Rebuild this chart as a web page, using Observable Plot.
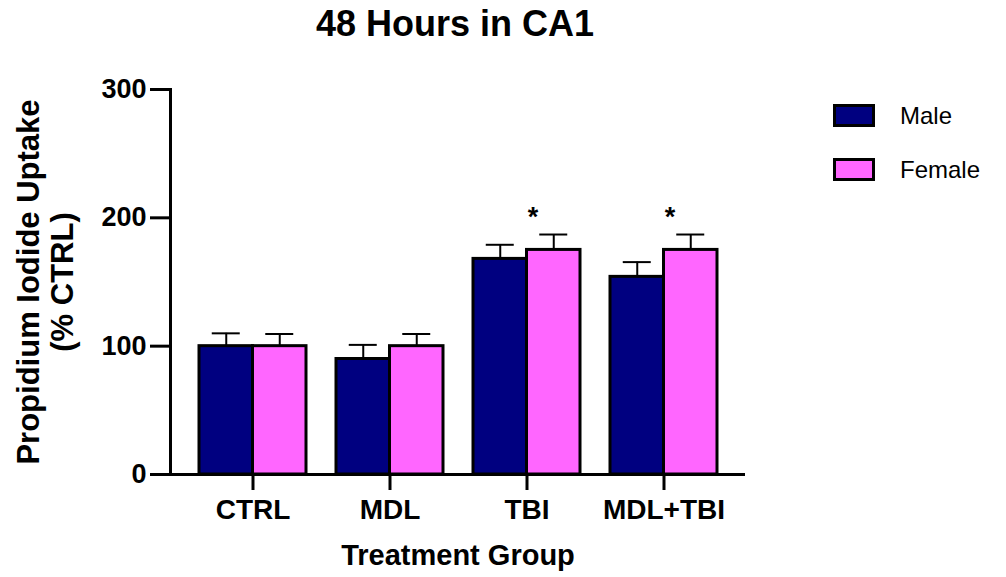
<!DOCTYPE html>
<html>
<head>
<meta charset="utf-8">
<script src="https://cdn.jsdelivr.net/npm/d3@7"></script>
<script src="https://cdn.jsdelivr.net/npm/@observablehq/plot@0.6"></script>
<style>
  body { margin: 0; background: #fff; }
  #chart { position: relative; width: 1006px; height: 577px; font-family: "Liberation Sans", Arial, sans-serif; color: #000; }
  #title { position: absolute; left: 0; top: 6px; width: 910px; text-align: center; font-size: 36px; line-height: 36px; font-weight: bold; }
  .legend-item { position: absolute; left: 833px; height: 23px; display: flex; align-items: center; }
  .legend-item .swatch { box-sizing: border-box; width: 42px; height: 23px; border: 3px solid #000; }
  .legend-item .name { margin-left: 25px; font-size: 24px; line-height: 24px; }
  #plot svg { display: block; }
</style>
</head>
<body>
<div id="chart">
  <div id="plot"></div>
  <div id="title">48 Hours in CA1</div>
</div>
<script>
// Treatment groups on the x axis
const groups = ["CTRL", "MDL", "TBI", "MDL+TBI"];

// Sexes and their bar colours
const sexes = ["Male", "Female"];
const sexColors = ["#000080", "#ff66ff"];

// Propidium iodide uptake, % of control (mean and SEM)
const maleMean = [100, 90, 168, 154];
const maleSem = [10, 11, 11, 11.5];
const femaleMean = [100, 100, 175, 175];
const femaleSem = [9.5, 9.5, 12, 12];

// Significance markers (female vs. control)
const femaleSignificant = [false, false, true, true];

// Y axis tick values
const yTicks = [0, 100, 200, 300];

const male = groups.map((g, i) => ({group: g, sex: "Male", mean: maleMean[i], sem: maleSem[i]}));
const female = groups.map((g, i) => ({group: g, sex: "Female", mean: femaleMean[i], sem: femaleSem[i], sig: femaleSignificant[i]}));

// Each group band holds two adjacent bars
const barW = 53.5;
const capW = 28;
const capInsetNear = (barW - capW) / 2;
const capInsetFar = barW + capInsetNear;

const chart = Plot.plot({
  width: 1006,
  height: 577,
  marginLeft: 170,
  marginRight: 261,
  marginTop: 89,
  marginBottom: 103,
  style: {fontFamily: "Liberation Sans, Arial, sans-serif", fontWeight: "bold", color: "#000", background: "transparent", overflow: "visible"},
  x: {domain: groups, paddingInner: 0.219, paddingOuter: 0.208, align: 0.5, axis: null},
  y: {domain: [0, 300], axis: null},
  color: {domain: sexes, range: sexColors},
  marks: [
    // error bars (upper half only)
    Plot.ruleX(male, {x: "group", y1: "mean", y2: d => d.mean + d.sem, dx: -barW / 2, stroke: "#000", strokeWidth: 2}),
    Plot.tickY(male, {x: "group", y: d => d.mean + d.sem, insetLeft: capInsetNear, insetRight: capInsetFar, stroke: "#000", strokeWidth: 2}),
    Plot.ruleX(female, {x: "group", y1: "mean", y2: d => d.mean + d.sem, dx: barW / 2, stroke: "#000", strokeWidth: 2}),
    Plot.tickY(female, {x: "group", y: d => d.mean + d.sem, insetLeft: capInsetFar, insetRight: capInsetNear, stroke: "#000", strokeWidth: 2}),
    // bars
    Plot.barY(male, {x: "group", y: "mean", fill: "sex", stroke: "#000", strokeWidth: 3, insetRight: barW}),
    Plot.barY(female, {x: "group", y: "mean", fill: "sex", stroke: "#000", strokeWidth: 3, insetLeft: barW}),
    // significance asterisks
    Plot.text(female.filter(d => d.sig), {x: "group", y: d => d.mean + d.sem, text: () => "*", dy: -17, dx: 6, fontSize: 27, fontWeight: "bold", fill: "#000"}),
    // axes
    Plot.axisY({ticks: yTicks, tickSize: 20, tickPadding: 4, fontSize: 27, fontWeight: "bold", strokeWidth: 3, label: null}),
    Plot.axisX({tickSize: 16, tickPadding: 9, fontSize: 28, fontWeight: "bold", strokeWidth: 3, label: null}),
    Plot.ruleY([0], {stroke: "#000", strokeWidth: 3}),
    Plot.frame({anchor: "left", stroke: "#000", strokeWidth: 3}),
    // axis titles
    Plot.text(["Treatment Group"], {frameAnchor: "bottom", dy: 81, lineAnchor: "middle", fontSize: 29, fontWeight: "bold", fill: "#000"}),
    Plot.text(["Propidium Iodide Uptake\n(% CTRL)"], {frameAnchor: "left", dx: -125, rotate: -90, textAnchor: "middle", lineAnchor: "middle", lineHeight: 1.1, fontSize: 31, fontWeight: "bold", fill: "#000"})
  ]
});
document.getElementById("plot").appendChild(chart);

// legend built from the colour scale
const container = document.getElementById("chart");
const legendTops = [104, 158];
sexes.forEach((s, i) => {
  const item = document.createElement("div");
  item.className = "legend-item";
  item.style.top = legendTops[i] + "px";
  const sw = document.createElement("span");
  sw.className = "swatch";
  sw.style.background = chart.scale("color").apply(s);
  const name = document.createElement("span");
  name.className = "name";
  name.textContent = s;
  item.appendChild(sw);
  item.appendChild(name);
  container.appendChild(item);
});
</script>
</body>
</html>
